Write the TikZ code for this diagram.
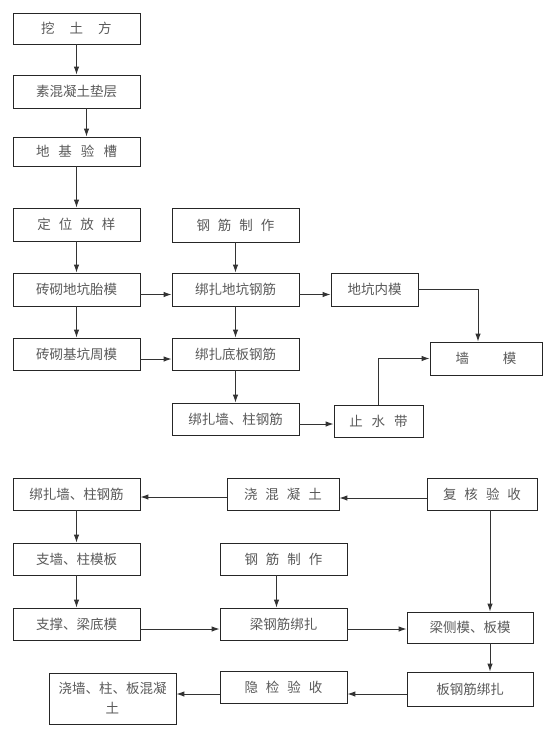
\documentclass[tikz,border=0pt]{standalone}
\usepackage{fontspec}
\setmainfont{Noto Sans CJK SC}
\usepackage{tikz}
\usetikzlibrary{shapes.geometric, arrows.meta}
\newcommand{\kg}{\hspace{8pt}}
\tikzset{
  blk/.style={draw=black!85,line width=0.8pt,shape=rectangle,inner sep=0pt,text=black!65,
    font=\fontsize{13.5}{20}\selectfont,minimum width=127pt,minimum height=32pt},
  lnk/.style={draw=black!80,line width=1pt,-{Latex[length=8pt,width=5.5pt]}}
}
\begin{document}
\begin{tikzpicture}[x=1pt,y=-1pt]
\useasboundingbox (0,0) rectangle (555,729);
            % upper part
            \node[blk,minimum height=31pt](n1)at(76.5,28.5){挖\hspace{15pt}土\hspace{15pt}方};
            \node[blk,minimum height=33pt](n2)at(76.5,91.5){素混凝土垫层};
            \node[blk,minimum height=29pt](n3)at(76.5,151.5){地\hspace{9pt}基\hspace{9pt}验\hspace{9pt}槽};
            \node[blk,minimum height=33pt](n4)at(76.5,224.5){定\kg 位\kg 放\kg 样};
            \node[blk,minimum height=34pt](n5)at(235.5,225){钢\kg 筋\kg 制\kg 作};
            \node[blk,minimum height=33pt](n6)at(76.5,289.5){砖砌地坑胎模};
            \node[blk,minimum height=33pt](n7)at(235.5,289.5){绑扎地坑钢筋};
            \node[blk,minimum height=33pt,minimum width=87pt](n8)at(374.5,289.5){地坑内模};
            \node[blk](n9)at(76.5,354){砖砌基坑周模};
            \node[blk](n10)at(235.5,354){绑扎底板钢筋};
            \node[blk,minimum height=33pt,minimum width=112pt](n11)at(486,358.5){墙\hspace{34pt}模};
            \node[blk](n12)at(235.5,419){绑扎墙、柱钢筋};
            \node[blk,minimum width=89pt](n13)at(378.5,421){止\hspace{9pt}水\hspace{9pt}带};

            % lower part
            \node[blk](m1)at(76.5,494){绑扎墙、柱钢筋};
            \node[blk,minimum width=112pt](m2)at(283,494){浇\kg 混\kg 凝\kg 土};
            \node[blk,minimum width=110pt](m3)at(482,494){复\kg 核\kg 验\kg 收};
            \node[blk](m4)at(76.5,559){支墙、柱模板};
            \node[blk](m5)at(283.5,559){钢\kg 筋\kg 制\kg 作};
            \node[blk](m6)at(76.5,624){支撑、梁底模};
            \node[blk](m7)at(283.5,624){梁钢筋绑扎};
            \node[blk,minimum width=126pt,minimum height=31pt](m8)at(470,627.5){梁侧模、板模};
            \node[blk,minimum height=51pt,align=center](m9)at(112.5,698.5){浇墙、柱、板混凝\\土};
            \node[blk](m10)at(283.5,687){隐\kg 检\kg 验\kg 收};
            \node[blk,minimum width=126pt,minimum height=34pt](m11)at(470,689){板钢筋绑扎};

            \draw[lnk](n1)to[](n2);
            \draw[lnk]([xshift=10pt]n2.south)to[]([xshift=10pt]n2.south|-n3.north);
            \draw[lnk](n3)to[](n4);
            \draw[lnk](n4)to[](n6);
            \draw[lnk](n5)to[](n7);
            \draw[lnk]([yshift=-5pt]n6.east)to[]([yshift=-5pt]n6.east-|n7.west);
            \draw[lnk]([yshift=-5pt]n7.east)to[]([yshift=-5pt]n7.east-|n8.west);
            \draw[lnk](n8.east)-|([xshift=-8pt]n11.north);
            \draw[lnk](n6)to[](n9);
            \draw[lnk](n7)to[](n10);
            \draw[lnk]([yshift=-5pt]n9.east)to[]([yshift=-5pt]n9.east-|n10.west);
            \draw[lnk](n10)to[](n12);
            \draw[lnk]([yshift=-5pt]n12.east)to[]([yshift=-5pt]n12.east-|n13.west);
            \draw[lnk](n13.north)|-(n11.west);

            \draw[lnk]([yshift=-4pt]m3.west)to[]([yshift=-4pt]m3.west-|m2.east);
            \draw[lnk]([yshift=-3pt]m2.west)to[]([yshift=-3pt]m2.west-|m1.east);
            \draw[lnk](m1)to[](m4);
            \draw[lnk](m4)to[](m6);
            \draw[lnk]([yshift=-5pt]m6.east)to[]([yshift=-5pt]m6.east-|m7.west);
            \draw[lnk]([xshift=-7pt]m5.south)to[]([xshift=-7pt]m5.south|-m7.north);
            \draw[lnk]([yshift=-5pt]m7.east)to[]([yshift=-5pt]m7.east-|m8.west);
            \draw[lnk]([xshift=8pt]m3.south)to[]([xshift=8pt]m3.south|-m8.north);
            \draw[lnk]([xshift=20pt]m8.south)to[]([xshift=20pt]m8.south|-m11.north);
            \draw[lnk]([yshift=-5pt]m11.west)to[]([yshift=-5pt]m11.west-|m10.east);
            \draw[lnk]([yshift=-7pt]m10.west)to[]([yshift=-7pt]m10.west-|m9.east);
\end{tikzpicture}
\end{document}
